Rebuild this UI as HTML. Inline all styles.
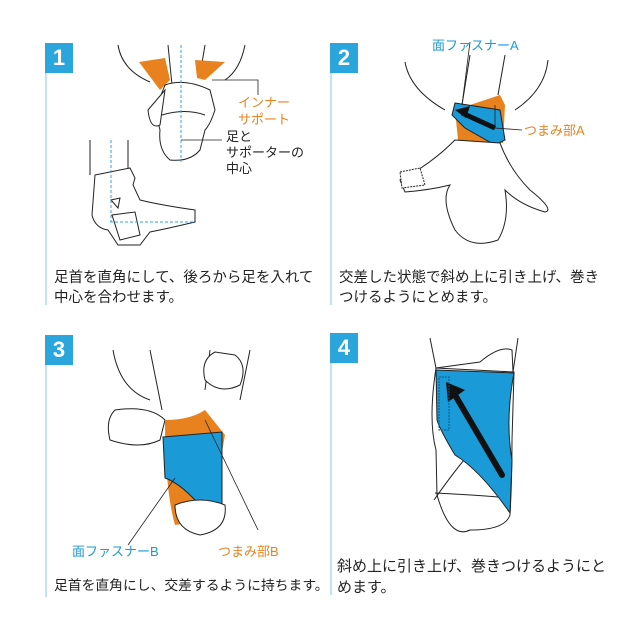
<!DOCTYPE html>
<html><head><meta charset="utf-8"><style>
body{margin:0;background:#fff;width:640px;height:640px;overflow:hidden;position:relative;font-family:"Liberation Sans","Noto Sans CJK JP",sans-serif;}
.b{position:absolute;width:28px;height:30px;background:#2aa6dc;color:#fff;font:bold 22px "Liberation Sans",sans-serif;text-align:center;line-height:30px;}
.l{position:absolute;width:2px;background:#bfe3f3;}
.t{position:absolute;font-size:14.5px;line-height:20px;color:#222;white-space:nowrap;}
svg{position:absolute;left:0;top:0}
</style></head><body>
<div class="b" style="left:45px;top:43px">1</div><div class="l" style="left:45px;top:73px;height:232px"></div>
<div class="b" style="left:330px;top:43px">2</div><div class="l" style="left:330px;top:73px;height:232px"></div>
<div class="b" style="left:45px;top:335px">3</div><div class="l" style="left:45px;top:365px;height:232px"></div>
<div class="b" style="left:330px;top:333px">4</div><div class="l" style="left:330px;top:363px;height:232px"></div>
<div class="t" style="left:54px;top:268px">足首を直角にして、後ろから足を入れて<br>中心を合わせます。</div>
<div class="t" style="left:339px;top:268px">交差した状態で斜め上に引き上げ、巻き<br>つけるようにとめます。</div>
<div class="t" style="left:54px;top:576px;font-size:13.8px">足首を直角にし、交差するように持ちます。</div>
<div class="t" style="left:337px;top:556px;font-size:15px;line-height:21px">斜め上に引き上げ、巻きつけるようにと<br>めます。</div>
<svg width="640" height="640" fill="none" stroke="#222" stroke-width="1">
<path d="M118 45 Q122 70 150 82 M168 45 L172 85 M205 45 L200 75 M245 45 Q240 70 225 80"/>
<path d="M139 62 L165 58 L170 80 L160 90 Z M195 60 L225 62 L205 80 L197 78 Z" fill="#e8821e" stroke="none"/>
<path d="M165 85 Q185 78 210 90 L215 110 Q210 125 205 130 L200 150 Q190 162 170 160 Q158 150 160 130 L155 110 Z" fill="#fff"/>
<path d="M148 110 L165 90 L160 125 Q150 130 148 110Z" fill="#fff"/>
<path d="M162 115 Q185 108 205 115"/>
<path d="M181 45 V162" stroke="#2aa6dc" stroke-dasharray="3,2"/>
<path d="M212 80 L258 80 V95" stroke-width="0.8"/>
<path d="M181 140 H222" stroke-width="0.8"/>
<text x="238" y="107" fill="#e8821e" stroke="none" font-size="13">インナー</text>
<text x="238" y="124" fill="#e8821e" stroke="none" font-size="13">サポート</text>
<text x="226" y="141" fill="#222" stroke="none" font-size="13">足と</text>
<text x="226" y="157" fill="#222" stroke="none" font-size="13">サポーターの</text>
<text x="226" y="173" fill="#222" stroke="none" font-size="13">中心</text>
<path d="M90 140 V175 M128 140 V168 M95 175 Q110 172 130 168 L135 178 L133 185 L140 200 Q160 205 195 210 L195 222 Q170 228 150 232 L140 245 L118 245 L108 230 Q95 228 92 215 Z" fill="#fff"/>
<path d="M111 200 L120 198 L118 208 Z M112 215 L135 212 L140 235 L120 240 Z" fill="#fff"/>
<path d="M110 222 H196 M111 140 V222" stroke="#2aa6dc" stroke-dasharray="3,2"/>
<path d="M405 62 Q410 90 445 110 M470 55 L462 105 M505 55 L498 95 M548 60 Q545 90 515 110"/>
<path d="M455 110 L500 95 L505 105 L503 143 L458 140 Z" fill="#e8821e" stroke="none"/>
<path d="M455 103 L500 110 L505 140 L495 145 L465 128 L452 115 Z" fill="#1a9ad6" stroke="#222"/>
<path d="M462 113 L495 128" stroke="#111" stroke-width="5"/><path d="M455 110 L470 106 L466 118 Z" fill="#111" stroke="none"/>
<path d="M455 140 L500 143 Q510 170 530 190 Q555 210 545 212 Q520 205 505 190 Q510 220 498 240 Q470 250 455 230 Q440 200 450 185 Q430 190 405 192 L400 180 Q430 165 455 140 Z" fill="#fff"/>
<path d="M400 172 L420 168 L425 185 L402 188 Z" fill="#fff" stroke-dasharray="2,1"/>
<path d="M470 42 L462 105 M495 105 V128 L522 130" stroke-width="0.8"/>
<text x="432" y="50" fill="#1a9ad6" stroke="none" font-size="13">面ファスナーA</text>
<text x="524" y="135" fill="#e8821e" stroke="none" font-size="13">つまみ部A</text>
<path d="M113 350 Q120 390 150 400 M150 350 L162 410 M210 350 L205 390 M250 350 L240 400"/>
<path d="M215 352 Q200 360 205 380 Q220 395 240 385 Q248 365 235 355 Z M115 410 Q105 420 110 440 Q140 450 160 440 L165 420 Q150 405 115 410Z" fill="#fff"/>
<path d="M165 420 Q190 420 205 410 L225 435 L210 520 L175 525 Q165 490 165 420 Z" fill="#e8821e" stroke="none"/>
<path d="M163 437 L222 432 L222 505 L210 518 Q185 485 165 478 Z" fill="#1a9ad6" stroke="#222"/>
<path d="M175 505 Q200 495 225 505 Q228 530 200 535 Q175 530 175 505Z" fill="#fff"/>
<path d="M128 545 L175 478 M258 530 L205 420" stroke-width="0.8"/>
<text x="72" y="556" fill="#1a9ad6" stroke="none" font-size="13">面ファスナーB</text>
<text x="218" y="556" fill="#e8821e" stroke="none" font-size="13">つまみ部B</text>
<path d="M430 338 L436 368 M518 338 L513 372"/>
<path d="M436 368 L480 362 Q500 345 512 350 L513 372" fill="#fff"/>
<path d="M436 368 Q428 420 436 450 L437 495 Q450 540 470 530 Q505 530 510 515 Q512 480 512 440 L514 372 Z" fill="#fff"/>
<path d="M434 500 Q455 470 470 453 M435 493 Q475 495 498 497"/>
<path d="M436 370 L514 373 Q505 420 512 460 L510 513 Q480 470 455 455 Q440 430 437 420 Z" fill="#1a9ad6" stroke="#222"/>
<path d="M502 475 L455 395" stroke="#111" stroke-width="6" stroke-linecap="round"/>
<path d="M446 382 L465 390 L448 402 Z" fill="#111" stroke="none"/>
<path d="M439 377 H449 V430 H439 Z" stroke="#0a5a88" stroke-dasharray="2,1"/>
</svg>
</body></html>
